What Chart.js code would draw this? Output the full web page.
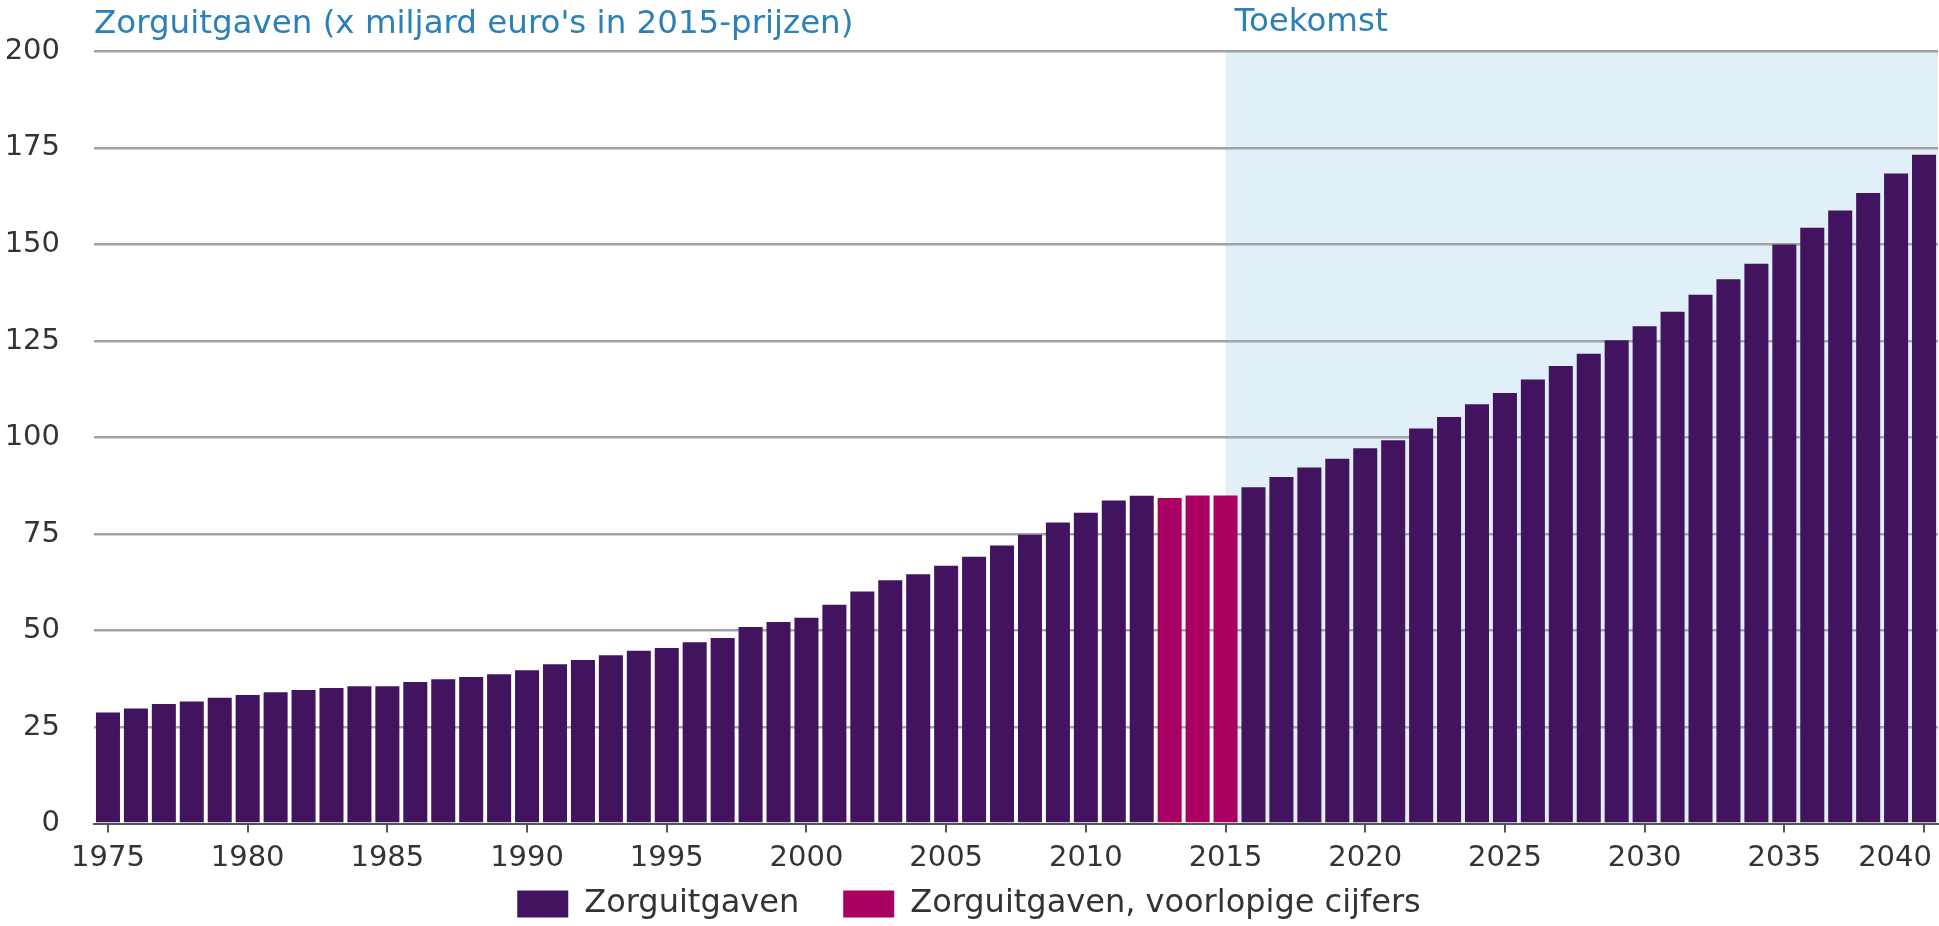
<!DOCTYPE html>
<html lang="nl">
<head>
<meta charset="utf-8">
<title>Zorguitgaven</title>
<script src="https://cdn.jsdelivr.net/npm/chart.js@4.4.1/dist/chart.umd.min.js"></script>
<style>
  html, body { margin: 0; padding: 0; background: #fff; }
  #wrap { position: relative; width: 1939px; height: 926px; }
</style>
</head>
<body>
<div id="wrap"><canvas id="zorg"></canvas></div>
<script>
// Jaren op de x-as
var jaren = [
    '1975', '1976', '1977', '1978', '1979', '1980', '1981', '1982', '1983', '1984',
    '1985', '1986', '1987', '1988', '1989', '1990', '1991', '1992', '1993', '1994',
    '1995', '1996', '1997', '1998', '1999', '2000', '2001', '2002', '2003', '2004',
    '2005', '2006', '2007', '2008', '2009', '2010', '2011', '2012', '2013', '2014',
    '2015', '2016', '2017', '2018', '2019', '2020', '2021', '2022', '2023', '2024',
    '2025', '2026', '2027', '2028', '2029', '2030', '2031', '2032', '2033', '2034',
    '2035', '2036', '2037', '2038', '2039', '2040'
];

// Zorguitgaven (x mld euro, 2015-prijzen)
var zorguitgaven = [
    28.8, 29.8, 31.0, 31.6, 32.6, 33.3, 34.0, 34.6, 35.1, 35.6,
    35.6, 36.7, 37.4, 38.0, 38.7, 39.7, 41.3, 42.4, 43.6, 44.8,
    45.5, 47.0, 48.1, 50.9, 52.2, 53.3, 56.7, 60.1, 63.0, 64.6,
    66.8, 69.1, 72.0, 74.8, 78.0, 80.5, 83.7, 84.9, null, null,
    null, 87.1, 89.8, 92.2, 94.5, 97.2, 99.3, 102.3, 105.3, 108.6,
    111.5, 115.0, 118.5, 121.7, 125.2, 128.8, 132.6, 137.0, 141.0, 145.0,
    150.0, 154.3, 158.8, 163.3, 168.4, 173.2
];

// Voorlopige cijfers (2013-2015)
var voorlopig = [
    null, null, null, null, null, null, null, null, null, null,
    null, null, null, null, null, null, null, null, null, null,
    null, null, null, null, null, null, null, null, null, null,
    null, null, null, null, null, null, null, null, 84.3, 85.0,
    85.0, null, null, null, null, null, null, null, null, null,
    null, null, null, null, null, null, null, null, null, null,
    null, null, null, null, null, null
];

var yTicks = [0, 25, 50, 75, 100, 125, 150, 175, 200];
var toekomstVanaf = '2015';

var FONT = 'DejaVu Sans';
var PAARS = '#42145f';
var ROBIJN = '#a90061';
var BLAUW = '#2b80b8';
var TEKST = '#333333';

Chart.defaults.font.family = FONT;

// witte achtergrond + lichtblauw vlak voor de toekomst, met het label erboven
var toekomstPlugin = {
    id: 'toekomst',
    beforeDraw: function (chart) {
        var ctx = chart.ctx, area = chart.chartArea;
        var links = chart.scales.x.getPixelForValue(jaren.indexOf(toekomstVanaf));
        ctx.save();
        ctx.fillStyle = '#ffffff';
        ctx.fillRect(0, 0, chart.width, chart.height);
        ctx.fillStyle = '#e1eff8';
        ctx.fillRect(links, area.top, area.right - links, area.bottom - area.top);
        ctx.fillStyle = BLAUW;
        ctx.font = '32.5px "' + FONT + '"';
        ctx.textBaseline = 'middle';
        ctx.textAlign = 'left';
        ctx.fillText('Toekomst', links + 9, 22.5);
        ctx.restore();
    }
};

var ctxZorg = document.getElementById('zorg').getContext('2d');
var chartZorg = new Chart(ctxZorg, {
    type: 'bar',
    data: {
        labels: jaren,
        datasets: [
            { label: 'Zorguitgaven', data: zorguitgaven, backgroundColor: PAARS, borderWidth: 0 },
            { label: 'Zorguitgaven, voorlopige cijfers', data: voorlopig, backgroundColor: ROBIJN, borderWidth: 0 }
        ]
    },
    options: {
        responsive: true, maintainAspectRatio: false, animation: false,
        devicePixelRatio: 1,
        datasets: { bar: { categoryPercentage: 1, barPercentage: 0.86 } },
        layout: { padding: { left: 0, right: 1, top: 0, bottom: -4 } },
        scales: {
            x: {
                stacked: true,
                grid: {
                    offset: false, drawOnChartArea: false, drawTicks: true, tickLength: 9, lineWidth: 2,
                    color: function (c) { return +jaren[c.index] % 5 === 0 ? '#555555' : 'rgba(0,0,0,0)'; }
                },
                border: { display: true, color: '#555555', width: 2 },
                ticks: {
                    autoSkip: false, maxRotation: 0, padding: 8, color: TEKST,
                    font: { size: 29 },
                    callback: function (val, i) {
                        var jaar = jaren[i];
                        if (+jaar % 5 !== 0) return '';
                        // laatste label schuift naar binnen, zoals in het origineel
                        return i === jaren.length - 1 ? jaar + '\u2003\u2003' : jaar;
                    }
                },
                afterFit: function (s) { s.paddingRight = 0; s.height = 52.4; }
            },
            y: {
                stacked: true, min: 0, max: 200,
                afterBuildTicks: function (s) { s.ticks = yTicks.map(function (v) { return { value: v }; }); },
                grid: {
                    drawTicks: false, lineWidth: 2.5,
                    color: function (c) { return c.tick && c.tick.value === 0 ? 'rgba(0,0,0,0)' : '#a3a3a3'; }
                },
                border: { display: false },
                ticks: { padding: 34, color: TEKST, font: { size: 29 } },
                afterFit: function (s) { s.width = 94; }
            }
        },
        plugins: {
            title: {
                display: true, text: "Zorguitgaven (x miljard euro's in 2015-prijzen)",
                align: 'start', fullSize: false, color: BLAUW,
                font: { size: 32.5, weight: 'normal', lineHeight: 1.2 },
                padding: { top: 3, bottom: 7.3 }
            },
            legend: {
                position: 'bottom',
                labels: {
                    boxWidth: 51, boxHeight: 27, padding: 12, color: TEKST, font: { size: 32 },
                    generateLabels: function (chart) {
                        var items = Chart.defaults.plugins.legend.labels.generateLabels(chart);
                        // extra ruimte tussen de twee legenda-items
                        if (items.length) items[0].text = items[0].text + '\u2003';
                        return items;
                    }
                }
            },
            tooltip: { enabled: false }
        }
    },
    plugins: [toekomstPlugin]
});
</script>
</body>
</html>
